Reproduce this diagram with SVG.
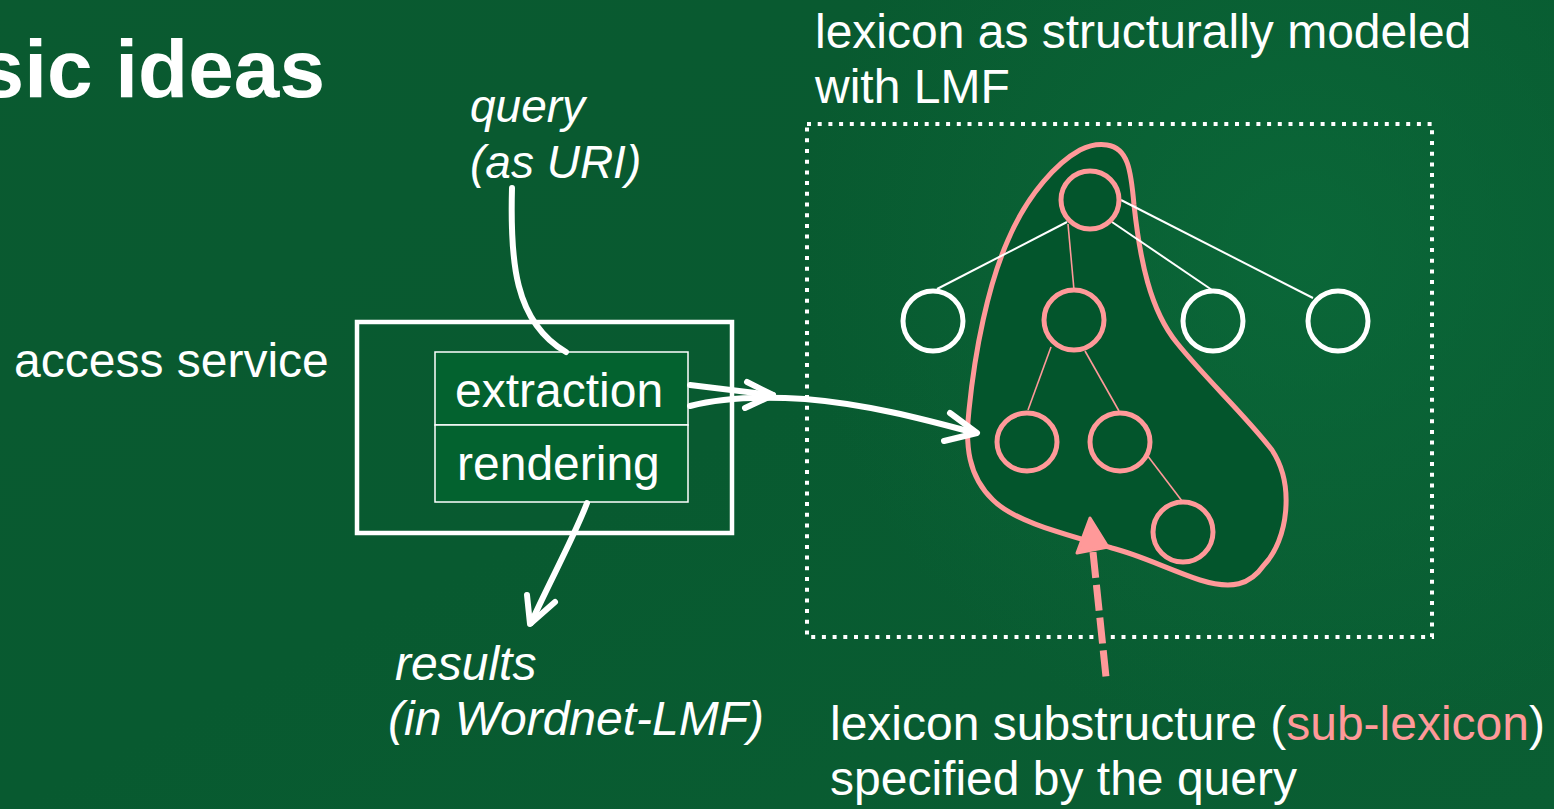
<svg xmlns="http://www.w3.org/2000/svg" width="1554" height="809" viewBox="0 0 1554 809">
<defs>
<linearGradient id="bg" x1="0" y1="0" x2="1" y2="1">
<stop offset="0" stop-color="#0a5a30"/>
<stop offset="0.5" stop-color="#085a30"/>
<stop offset="1" stop-color="#0a5e33"/>
</linearGradient>
<radialGradient id="glow" cx="1300" cy="250" r="500" gradientUnits="userSpaceOnUse">
<stop offset="0" stop-color="#0b6a3a" stop-opacity="0.8"/>
<stop offset="1" stop-color="#0b6a3a" stop-opacity="0"/>
</radialGradient>
<style>
text{font-family:"Liberation Sans",Arial,sans-serif;fill:#ffffff}
.t{font-size:48px}
.it{font-size:46px;font-style:italic}
.it2{font-size:48px;font-style:italic}
.node{fill:none;stroke-width:5}
.w{stroke:#ffffff}
.p{stroke:#ff9999}
.edgew{stroke:#ffffff;stroke-width:2;fill:none}
.edgep{stroke:#ff9999;stroke-width:1.6;fill:none}
.conn{stroke:#ffffff;stroke-width:6;fill:none;stroke-linecap:round;stroke-linejoin:round}
</style>
</defs>
<rect width="1554" height="809" fill="url(#bg)"/>
<rect width="1554" height="809" fill="url(#glow)"/>

<g id="title"><text x="325" y="97" text-anchor="end" style="font-size:82px;font-weight:bold">sic ideas</text></g>

<g id="access-service">
<text class="t" x="14" y="377">access service</text>
<rect x="357" y="322" width="375" height="211" fill="none" stroke="#ffffff" stroke-width="4.5"/>
</g>
<g id="extraction">
<rect x="435" y="352" width="253" height="73" fill="#03622f" stroke="#ffffff" stroke-width="1.5"/>
<text class="t" x="455" y="407">extraction</text>
</g>
<g id="rendering">
<rect x="435" y="425" width="253" height="77" fill="#03622f" stroke="#ffffff" stroke-width="1.5"/>
<text class="t" x="457" y="480">rendering</text>
</g>

<g id="query-label"><text class="it" x="470" y="122">query</text><text class="it" x="470" y="178">(as URI)</text></g>
<g id="results-label"><text class="it2" x="395" y="680">results</text><text class="it2" x="388" y="735">(in Wordnet-LMF)</text></g>
<g id="lexicon-label"><text class="t" x="815" y="48">lexicon as structurally modeled</text><text class="t" x="815" y="103">with LMF</text></g>
<g id="sublexicon-label"><text class="t" x="830" y="740">lexicon substructure (<tspan style="fill:#ff9999">sub-lexicon</tspan>)</text><text class="t" x="830" y="795">specified by the query</text></g>

<g id="lexicon-frame">
<rect x="807" y="124" width="625" height="513" fill="none" stroke="#ffffff" stroke-width="4" stroke-dasharray="4 6.7"/>
</g>

<g id="sub-lexicon">
<path d="M1107 145 C1128 148 1131 170 1134 205 C1140 260 1150 310 1177 343 C1205 378 1245 415 1272 450 C1295 485 1288 540 1264 565 C1250 585 1232 590 1200 580 C1170 570 1140 555 1112 548 C1065 534 1015 522 993 500 C968 476 965 445 969 410 C975 350 988 285 1008 240 C1028 193 1058 162 1080 150 C1090 145 1100 144 1107 145 Z" fill="#03552c" stroke="#ff9999" stroke-width="5"/>
</g>

<g id="tree-edges">
<line class="edgew" x1="1067" y1="222" x2="937" y2="289"/>
<line class="edgew" x1="1112" y1="222" x2="1212" y2="290"/>
<line class="edgew" x1="1121" y1="200" x2="1313" y2="298"/>
<line class="edgep" x1="1068" y1="224" x2="1074" y2="290"/>
<line class="edgep" x1="1051" y1="347" x2="1028" y2="410"/>
<line class="edgep" x1="1085" y1="351" x2="1119" y2="411"/>
<line class="edgep" x1="1147" y1="455" x2="1182" y2="501"/>
</g>

<g id="n-root"><ellipse class="node p" cx="1090" cy="200" rx="29" ry="29"/></g>
<g id="n-a"><ellipse class="node w" cx="933" cy="321" rx="30" ry="30"/></g>
<g id="n-b"><ellipse class="node p" cx="1074" cy="320" rx="30" ry="30"/></g>
<g id="n-c"><ellipse class="node w" cx="1213" cy="321" rx="30" ry="30"/></g>
<g id="n-d"><ellipse class="node w" cx="1338" cy="321" rx="30" ry="30"/></g>
<g id="n-e"><ellipse class="node p" cx="1027" cy="442" rx="30" ry="29"/></g>
<g id="n-f"><ellipse class="node p" cx="1120" cy="442" rx="30" ry="29"/></g>
<g id="n-g"><ellipse class="node p" cx="1183" cy="532" rx="30" ry="30"/></g>

<g id="connectors">
<path class="conn" d="M512 188 C510 260 514 322 566 352"/>
<path class="conn" d="M690 385 L773 395"/>
<path class="conn" d="M747 382 L773 395 L745 408"/>
<path class="conn" d="M690 406 C720 398 760 396 805 399 C865 404 920 418 975 433"/>
<path class="conn" d="M950 413 L977 433 L944 441"/>
<path class="conn" d="M587 503 C575 535 548 585 531 623"/>
<path class="conn" d="M527 595 L530 624 L555 602"/>
<line x1="1093" y1="552" x2="1106" y2="677" stroke="#ff9999" stroke-width="7" stroke-dasharray="26 7"/>
<polygon points="1090,518 1077,553 1108,547" fill="#ff9999" stroke="#ff9999" stroke-width="3" stroke-linejoin="round"/>
</g>
</svg>
